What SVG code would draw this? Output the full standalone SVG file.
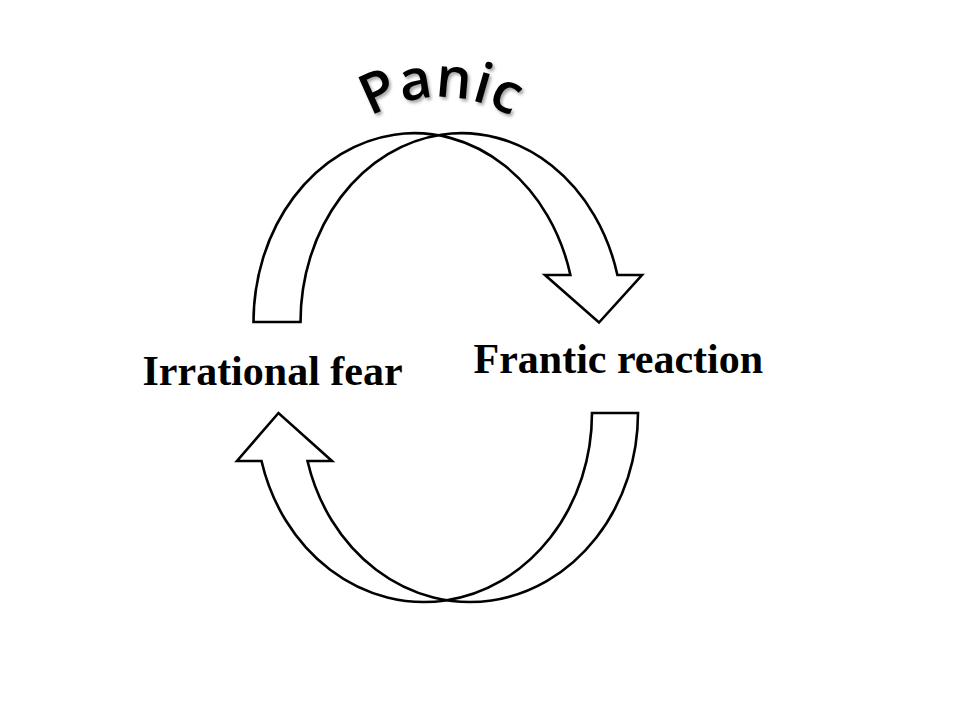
<svg xmlns="http://www.w3.org/2000/svg" width="960" height="720" viewBox="0 0 960 720">
  <defs>
    <style>
      .arrow { fill: #ffffff; stroke: #000000; stroke-width: 2.6; stroke-linejoin: miter; }
      .label { font-family: "Liberation Serif", "Times New Roman", serif; font-weight: bold; font-size: 42px; fill: #000000; }
      .title { font-family: "Open Sans", "Noto Sans", sans-serif; font-weight: 600; font-size: 56px; fill: #000000; letter-spacing: 0.5px; }
    </style>
    <filter id="shadow" x="-20%" y="-20%" width="140%" height="140%">
      <feDropShadow dx="2" dy="2.5" stdDeviation="1.5" flood-color="#000000" flood-opacity="0.35"/>
    </filter>
    <path id="panicArc" d="M324.1,164.5 A135,135 0 0 1 557.9,164.5"/>
  </defs>
  <rect x="0" y="0" width="960" height="720" fill="#ffffff"/>
  <g id="connectors">
    <path id="arrow-top" class="arrow" d="M253.5,322 A161,189 0 0 1 570.4,275 L545,275 L599,322.5 L642,275 L617.4,275 A161,189 0 0 0 300.5,322 Z"/>
    <path id="arrow-bottom" class="arrow" d="M592,413 A168,189 0 0 1 261.5,461 L237,461 L278.5,413 L332,461 L307.5,461 A168,189 0 0 0 638,413 Z"/>
  </g>
  <g id="node-panic">
    <text class="title" filter="url(#shadow)" text-anchor="middle"><textPath href="#panicArc" startOffset="50%">Panic</textPath></text>
  </g>
  <g id="node-irrational-fear">
    <text class="label" x="142.5" y="384.5">Irrational fear</text>
  </g>
  <g id="node-frantic-reaction">
    <text class="label" x="473.5" y="372.5">Frantic reaction</text>
  </g>
</svg>
